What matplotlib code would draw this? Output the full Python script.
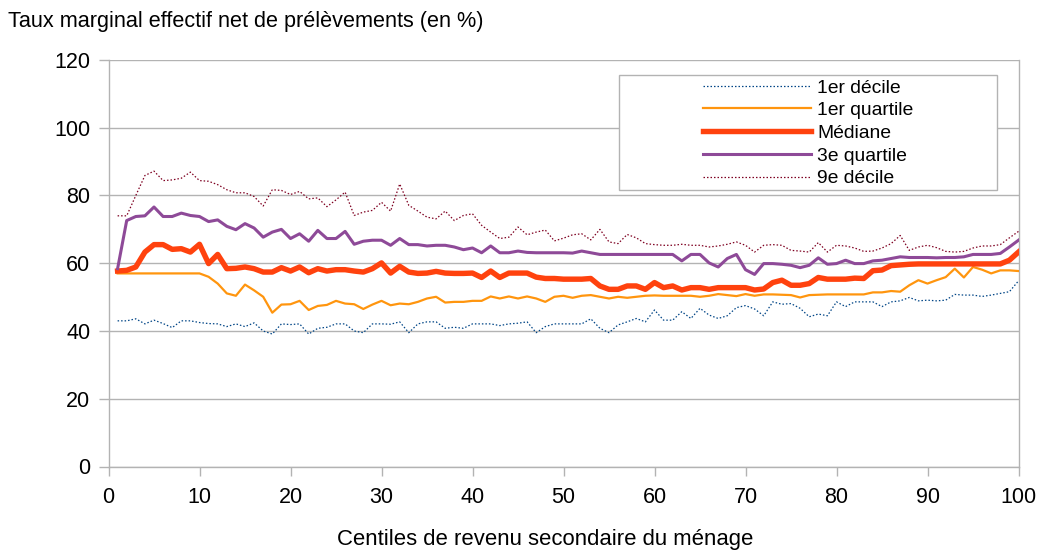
import matplotlib
matplotlib.use("Agg")
import matplotlib.pyplot as plt
from matplotlib.patches import Rectangle

plt.rcParams['font.family'] = ['Liberation Sans', 'DejaVu Sans']

centiles = list(range(1, 101))

premier_decile = [
    43.0, 43.0, 43.6, 42.1, 43.2, 42.2, 41.0, 43.0, 43.0, 42.5,
    42.2, 42.1, 41.3, 42.1, 41.3, 42.4, 40.0, 39.1, 42.1, 41.9,
    42.1, 39.1, 40.8, 41.1, 42.1, 42.1, 40.0, 39.5, 42.1, 42.1,
    42.0, 42.7, 39.5, 42.1, 42.7, 42.7, 40.8, 41.1, 40.8, 42.1,
    42.1, 42.1, 41.6, 42.1, 42.3, 42.7, 39.5, 41.3, 42.1, 42.1,
    42.1, 42.1, 43.6, 40.8, 39.5, 41.8, 42.7, 43.7, 42.7, 46.2,
    43.2, 43.2, 45.7, 43.7, 46.7, 44.7, 43.7, 44.5, 46.9, 47.5,
    46.5, 44.5, 48.6, 47.9, 48.1, 46.7, 44.2, 45.0, 44.5, 48.6,
    47.2, 48.6, 48.6, 48.6, 47.2, 48.6, 48.9, 49.9, 48.9, 49.1,
    48.9, 49.1, 50.8, 50.6, 50.6, 50.2, 50.6, 51.1, 51.6, 54.8,
]

premier_quartile = [
    57.0, 57.0, 57.0, 57.0, 57.0, 57.0, 57.0, 57.0, 57.0, 57.0,
    56.0, 54.0, 51.1, 50.4, 53.7, 52.0, 50.1, 45.4, 47.8, 47.9,
    48.9, 46.2, 47.4, 47.7, 48.9, 48.1, 47.9, 46.5, 47.8, 48.9,
    47.6, 48.1, 47.9, 48.6, 49.6, 50.1, 48.4, 48.6, 48.6, 48.9,
    48.9, 50.2, 49.6, 50.2, 49.6, 50.2, 49.6, 48.6, 50.1, 50.4,
    49.8, 50.4, 50.6, 50.1, 49.6, 50.1, 49.8, 50.1, 50.4, 50.5,
    50.4, 50.4, 50.4, 50.4, 50.1, 50.4, 50.9, 50.6, 50.3, 50.9,
    50.4, 50.8, 50.8, 50.7, 50.6, 49.9, 50.6, 50.7, 50.8, 50.8,
    50.8, 50.8, 50.8, 51.4, 51.4, 51.8, 51.6, 53.5, 55.0, 54.0,
    55.0, 55.9, 58.4, 55.8, 58.9, 58.1, 57.0, 57.9, 57.9, 57.7,
]

mediane = [
    57.7, 57.9, 58.9, 63.3, 65.5, 65.5, 64.1, 64.3, 63.3, 65.6,
    59.9, 62.6, 58.4, 58.5, 58.9, 58.4, 57.4, 57.4, 58.7, 57.7,
    58.9, 57.2, 58.4, 57.7, 58.1, 58.1, 57.7, 57.4, 58.4, 60.1,
    57.1, 59.1, 57.4, 57.0, 57.1, 57.6, 57.1, 57.0, 57.0, 57.1,
    55.8, 57.7, 55.8, 57.1, 57.1, 57.1, 55.9, 55.5, 55.5, 55.3,
    55.3, 55.3, 55.5, 53.3, 52.3, 52.3, 53.3, 53.3, 52.3, 54.3,
    52.8, 53.3, 52.1, 52.8, 52.8, 52.3, 52.8, 52.8, 52.8, 52.8,
    52.1, 52.4, 54.3, 55.0, 53.5, 53.5, 54.0, 55.8, 55.3, 55.3,
    55.3, 55.6, 55.5, 57.8, 58.0, 59.3, 59.5, 59.7, 59.8, 59.8,
    59.8, 59.8, 59.8, 59.8, 59.8, 59.8, 59.8, 59.8, 60.9, 63.3,
]

troisieme_quartile = [
    58.4, 72.6, 73.8, 74.0, 76.6, 73.8, 73.8, 74.8, 74.1, 73.8,
    72.3, 72.8, 70.9, 69.9, 71.7, 70.4, 67.7, 69.2, 70.0, 67.3,
    68.7, 66.5, 69.7, 67.3, 67.3, 69.4, 65.6, 66.5, 66.8, 66.8,
    65.3, 67.3, 65.5, 65.5, 65.1, 65.3, 65.3, 64.8, 64.0, 64.5,
    63.1, 65.1, 63.1, 63.1, 63.6, 63.2, 63.1, 63.1, 63.1, 63.1,
    63.0, 63.6, 63.1, 62.6, 62.6, 62.6, 62.6, 62.6, 62.6, 62.6,
    62.6, 62.6, 60.7, 62.6, 62.6, 60.1, 58.9, 61.4, 62.6, 58.1,
    56.7, 59.9, 59.9, 59.7, 59.4, 58.7, 59.4, 61.6, 59.7, 59.9,
    60.9, 59.9, 59.9, 60.7, 60.9, 61.4, 61.9, 61.7, 61.7, 61.7,
    61.6, 61.7, 61.7, 61.9, 62.6, 62.6, 62.6, 62.9, 64.8, 66.8,
]

neuvieme_decile = [
    74.0, 74.0, 80.0, 85.9, 87.2, 84.4, 84.6, 85.1, 86.9, 84.4,
    84.2, 83.2, 81.7, 80.8, 80.8, 79.7, 76.9, 81.7, 81.5, 80.3,
    81.2, 79.0, 79.3, 76.7, 78.7, 81.0, 74.1, 75.1, 75.6, 78.0,
    75.4, 83.4, 77.1, 75.4, 73.6, 73.1, 75.4, 72.6, 74.1, 74.6,
    71.2, 69.2, 67.3, 67.7, 70.7, 68.4, 69.2, 69.8, 66.6, 67.4,
    68.4, 68.7, 66.9, 70.0, 66.3, 65.8, 68.5, 67.5, 65.8, 65.5,
    65.3, 65.3, 65.6, 65.3, 65.3, 64.8, 65.1, 65.6, 66.3, 65.3,
    63.3, 65.3, 65.5, 65.3, 63.8, 63.6, 63.3, 66.1, 63.3, 65.3,
    65.1, 64.5, 63.5, 63.6, 64.5, 65.8, 68.2, 63.8, 64.8, 65.3,
    64.6, 63.5, 63.3, 63.5, 64.5, 65.1, 65.1, 65.5, 67.5, 69.4,
]

series_labels = ["1er décile", "1er quartile", "Médiane", "3e quartile", "9e décile"]
title_text = "Taux marginal effectif net de prélèvements (en %)"
xlabel_text = "Centiles de revenu secondaire du ménage"

W, H = 1041, 550
fig = plt.figure(figsize=(W / 100, H / 100), dpi=100)
ax = fig.add_axes([108.5 / W, (H - 466.5) / H, 910 / W, 406.5 / H])

grid_col = "#b3b3b3"
ax.plot(centiles, premier_decile, color="#004586", lw=0.9,
        linestyle=(0, (1.2, 1.6)), label=series_labels[0], zorder=3)
ax.plot(centiles, premier_quartile, color="#ff950e", lw=1.6,
        label=series_labels[1], zorder=3)
ax.plot(centiles, mediane, color="#ff420e", lw=3.9,
        label=series_labels[2], zorder=3)
ax.plot(centiles, troisieme_quartile, color="#8e4a98", lw=2.2,
        label=series_labels[3], zorder=3)
ax.plot(centiles, neuvieme_decile, color="#7e0021", lw=0.9,
        linestyle=(0, (1.2, 1.6)), label=series_labels[4], zorder=3)

ax.set_xlim(0, 100)
ax.set_ylim(0, 120)
ax.set_xticks(range(0, 101, 10))
ax.set_yticks(range(0, 121, 20))
ax.yaxis.grid(True, color=grid_col, lw=1.0)
ax.set_axisbelow(True)
for side in ("left", "bottom", "right"):
    ax.spines[side].set_color(grid_col)
    ax.spines[side].set_linewidth(1.0)
ax.spines["top"].set_visible(False)
ax.tick_params(axis="both", colors=grid_col, labelcolor="black",
               labelsize=15.5, width=1.0, direction="out")
ax.tick_params(axis="y", length=7.5, pad=5.5)
ax.tick_params(axis="x", length=6.5, pad=8)

fig.text(8 / W, 1 - 21 / H, title_text, fontsize=15.6, ha="left", va="center")
fig.text(545.5 / W, 1 - 540 / H, xlabel_text, fontsize=15.9, ha="center", va="center")

# legend frame wider than its entries
box = Rectangle((619 / W, 1 - 190 / H), (997 - 619) / W, (190 - 74.5) / H,
                transform=fig.transFigure, facecolor="white",
                edgecolor=grid_col, lw=1.0, zorder=4, clip_on=False)
ax.add_patch(box)
leg = ax.legend(loc="upper left", bbox_to_anchor=(703 / W, 1 - 79 / H),
                bbox_transform=fig.transFigure, frameon=False,
                fontsize=13.9, handlelength=5.6, handletextpad=0.3,
                labelspacing=0.27, borderpad=0, borderaxespad=0)
leg.set_zorder(5)

fig.savefig("out.png", dpi=100)
